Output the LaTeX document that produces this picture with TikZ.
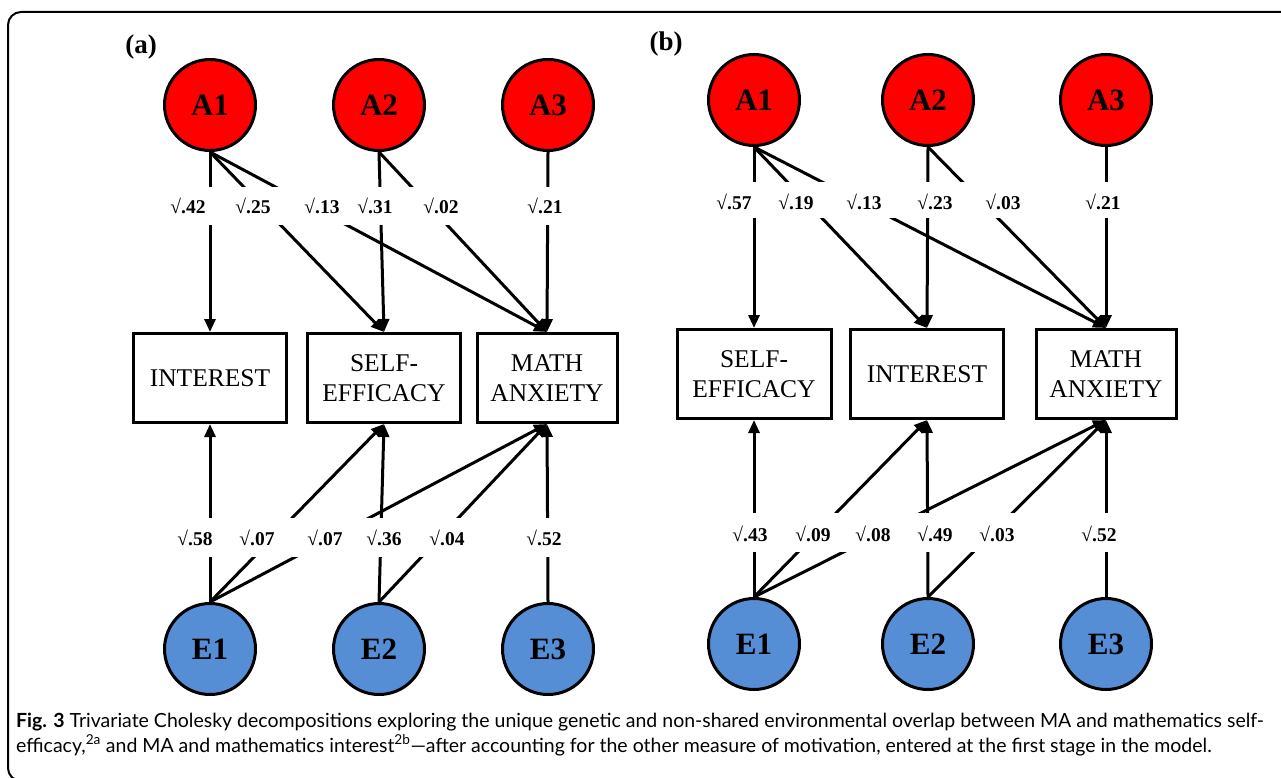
\documentclass[tikz,border=0pt]{standalone}
\usepackage{fontspec}
\setmainfont{Liberation Serif}
\newfontfamily\capfont{Lato}
\usetikzlibrary{arrows.meta,shapes.geometric}
\definecolor{envblue}{RGB}{86,142,213}
\definecolor{genred}{RGB}{255,0,0}
\begin{document}
\begin{tikzpicture}[x=1pt,y=-1pt,
  lat/.style={circle, draw, line width=3pt, minimum size=91pt, inner sep=0pt, font=\fontsize{31}{31}\selectfont\bfseries},
  gen/.style={lat, fill=genred},
  env/.style={lat, fill=envblue},
  obs/.style={draw, line width=3pt, minimum height=89pt, inner sep=0pt, align=center, fill=white, font=\fontsize{25.5}{30}\selectfont},
  pth/.style={line width=3pt, -{Triangle[length=13pt,width=11pt]}},
  lab/.style={font=\fontsize{19.5}{19.5}\selectfont\bfseries, inner sep=0pt},
  band/.style={fill=white, draw=none},
  panel/.style={font=\fontsize{27}{27}\selectfont\bfseries, inner sep=0pt}
]
\useasboundingbox (0,0) rectangle (1281,778);
% frame
\draw[line width=2pt, rounded corners=13pt] (1300,12) -- (8,12) -- (8,781) -- (60,781);

% ---------------- panel (a)
\node[panel] (pa) at (141,47) {(a)};
\node[gen] (aA1) at (210,105) {A1};
\node[gen] (aA2) at (379,105) {A2};
\node[gen] (aA3) at (548,105) {A3};
\node[obs, minimum width=153pt] (aINT) at (210,378) {INTEREST};
\node[obs, minimum width=153pt] (aSE) at (384,378) {SELF-\\EFFICACY};
\node[obs, minimum width=140pt] (aMA) at (547,378) {MATH\\ANXIETY};
\node[env] (aE1) at (210,649) {E1};
\node[env] (aE2) at (379,649) {E2};
\node[env] (aE3) at (548,649) {E3};

\draw[pth] (aA1.south) -- (aINT.north);
\draw[pth] (aA1.south) -- (aSE.north);
\draw[pth] (aA1.south) -- (aMA.north);
\draw[pth] (aA2.south) -- (aSE.north);
\draw[pth] (aA2.south) -- (aMA.north);
\draw[pth] (aA3.south) -- (aMA.north);
\draw[pth] (aE1.north) -- (aINT.south);
\draw[pth] (aE1.north) -- (aSE.south);
\draw[pth] (aE1.north) -- (aMA.south);
\draw[pth] (aE2.north) -- (aSE.south);
\draw[pth] (aE2.north) -- (aMA.south);
\draw[pth] (aE3.north) -- (aMA.south);

\fill[band] (150,187) rectangle (600,225);
\fill[band] (150,518) rectangle (600,557);

\node[lab] (la1) at (188,206) {√.42};
\node[lab] (la2) at (253,206) {√.25};
\node[lab] (la3) at (322,206) {√.13};
\node[lab] (la4) at (375,206) {√.31};
\node[lab] (la5) at (441,206) {√.02};
\node[lab] (la6) at (545,206) {√.21};
\node[lab] (lb1) at (195,538) {√.58};
\node[lab] (lb2) at (257,538) {√.07};
\node[lab] (lb3) at (325,538) {√.07};
\node[lab] (lb4) at (384,538) {√.36};
\node[lab] (lb5) at (447,538) {√.04};
\node[lab] (lb6) at (544,538) {√.52};

% ---------------- panel (b)
\node[panel] (pb) at (666,44) {(b)};
\node[gen] (bA1) at (754,100) {A1};
\node[gen] (bA2) at (928,100) {A2};
\node[gen] (bA3) at (1106,100) {A3};
\node[obs, minimum width=154pt] (bSE) at (754,374) {SELF-\\EFFICACY};
\node[obs, minimum width=153pt] (bINT) at (927,374) {INTEREST};
\node[obs, minimum width=140pt] (bMA) at (1106,374) {MATH\\ANXIETY};
\node[env] (bE1) at (754,644) {E1};
\node[env] (bE2) at (928,644) {E2};
\node[env] (bE3) at (1106,644) {E3};

\draw[pth] (bA1.south) -- (bSE.north);
\draw[pth] (bA1.south) -- (bINT.north);
\draw[pth] (bA1.south) -- (bMA.north);
\draw[pth] (bA2.south) -- (bINT.north);
\draw[pth] (bA2.south) -- (bMA.north);
\draw[pth] (bA3.south) -- (bMA.north);
\draw[pth] (bE1.north) -- (bSE.south);
\draw[pth] (bE1.north) -- (bINT.south);
\draw[pth] (bE1.north) -- (bMA.south);
\draw[pth] (bE2.north) -- (bINT.south);
\draw[pth] (bE2.north) -- (bMA.south);
\draw[pth] (bE3.north) -- (bMA.south);

\fill[band] (690,182) rectangle (1160,218);
\fill[band] (690,513) rectangle (1160,552);

\node[lab] (lc1) at (734,202) {√.57};
\node[lab] (lc2) at (796,202) {√.19};
\node[lab] (lc3) at (864,202) {√.13};
\node[lab] (lc4) at (935,202) {√.23};
\node[lab] (lc5) at (1003,202) {√.03};
\node[lab] (lc6) at (1103,202) {√.21};
\node[lab] (ld1) at (750,534) {√.43};
\node[lab] (ld2) at (813,534) {√.09};
\node[lab] (ld3) at (873,534) {√.08};
\node[lab] (ld4) at (935,534) {√.49};
\node[lab] (ld5) at (997,534) {√.03};
\node[lab] (ld6) at (1099,534) {√.52};

% ---------------- caption
\node[anchor=base west, inner sep=0pt, font=\capfont\fontsize{19.5}{22}\selectfont] (cap1) at (16,727)
  {\textbf{Fig. 3} Trivariate Cholesky decompositions exploring the unique genetic and non-shared environmental overlap between MA and mathematics self-};
\node[anchor=base west, inner sep=0pt, font=\capfont\fontsize{19.5}{22}\selectfont] (cap2) at (16,752)
  {efficacy,\textsuperscript{2a} and MA and mathematics interest\textsuperscript{2b}—after accounting for the other measure of motivation, entered at the first stage in the model.};
\end{tikzpicture}
\end{document}
